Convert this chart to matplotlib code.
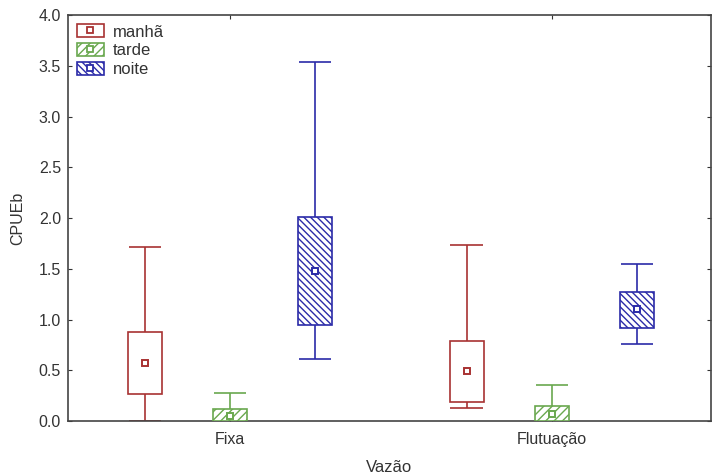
import matplotlib
matplotlib.use("Agg")
import matplotlib.pyplot as plt
from matplotlib.lines import Line2D
from matplotlib.patches import Patch

plt.rcParams['font.family'] = ['Liberation Sans', 'DejaVu Sans']

categories = ["Fixa", "Flutuação"]
series = ["manhã", "tarde", "noite"]
# per series: values for [Fixa, Flutuação]
whisk_lo = {"manhã": [0.0, 0.13], "tarde": [0.0, 0.0], "noite": [0.61, 0.76]}
q1 = {"manhã": [0.27, 0.19], "tarde": [0.0, 0.0], "noite": [0.95, 0.92]}
median = {"manhã": [0.57, 0.49], "tarde": [0.05, 0.07], "noite": [1.48, 1.10]}
q3 = {"manhã": [0.88, 0.79], "tarde": [0.12, 0.15], "noite": [2.01, 1.27]}
whisk_hi = {"manhã": [1.71, 1.73], "tarde": [0.28, 0.35], "noite": [3.54, 1.55]}

colors = {"manhã": "#a83232", "tarde": "#6aa84f", "noite": "#2b2ba8"}
hatches = {"manhã": None, "tarde": "////", "noite": "\\\\\\\\\\"}
offsets = {"manhã": -0.265, "tarde": 0.0, "noite": 0.265}
width = 0.106
cap = 0.05

fig = plt.figure(figsize=(7.12, 4.76), dpi=100)
ax = fig.add_axes([0.0955, 0.1155, 0.903, 0.853])

handles = []
for s in series:
    c = colors[s]
    xs = [i + offsets[s] for i in range(len(categories))]
    for j, x in enumerate(xs):
        ax.vlines(x, whisk_lo[s][j], q1[s][j], color=c, lw=1.2, zorder=2)
        ax.vlines(x, q3[s][j], whisk_hi[s][j], color=c, lw=1.2, zorder=2)
        ax.hlines([whisk_lo[s][j], whisk_hi[s][j]], x - cap, x + cap, color=c, lw=1.2, zorder=2)
    ax.bar(xs, [q3[s][j] - q1[s][j] for j in range(len(xs))], bottom=q1[s], width=width,
           facecolor="white", edgecolor=c, hatch=hatches[s], lw=1.2, zorder=3)
    ax.plot(xs, median[s], ls="none", marker="s", ms=4.8, mfc="white", mec=c, mew=1.4, zorder=4)
    handles.append((Patch(facecolor="white", edgecolor=c, hatch=hatches[s], lw=1.2),
                    Line2D([], [], ls="none", marker="s", ms=4.5, mfc="white", mec=c, mew=1.3)))

ax.set_xlim(-0.503, 0.494 + 1)
ax.set_ylim(0, 4.0)
yt = [0, 0.5, 1.0, 1.5, 2.0, 2.5, 3.0, 3.5, 4.0]
ax.set_yticks(yt)
ax.set_yticklabels([f"{v:.1f}" for v in yt])
ax.set_xticks(range(len(categories)))
ax.set_xticklabels(categories)
ax.tick_params(direction="in", length=3, labelsize=11.5, colors="#333333", top=True, right=True)
ax.tick_params(axis="x", pad=8)
ax.tick_params(axis="y", pad=5)
for sp in ax.spines.values():
    sp.set_color("#444444")
    sp.set_linewidth(1.2)
ax.set_ylabel("CPUEb", fontsize=11.5, color="#333333", labelpad=10)
ax.set_xlabel("Vazão", fontsize=12, color="#333333", labelpad=9)

ax.legend(handles, series, loc="upper left", frameon=False, fontsize=12,
          handlelength=1.6, handleheight=0.85, borderaxespad=0.15, labelspacing=0.2,
          handletextpad=0.55, labelcolor="#333333")

fig.savefig("out.png", dpi=100)
